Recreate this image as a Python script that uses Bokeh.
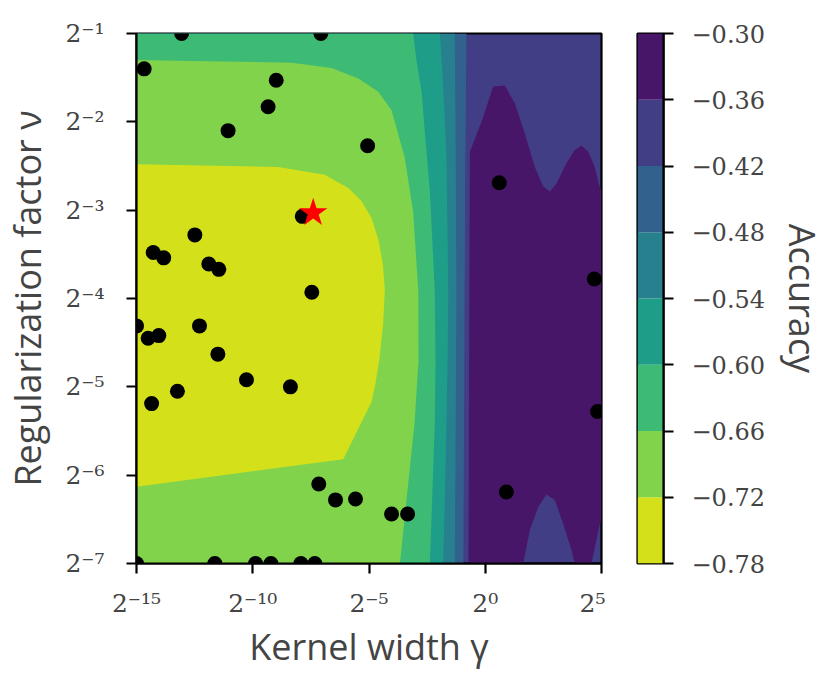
import numpy as np
from bokeh.plotting import figure
from bokeh.layouts import row
from bokeh.models import Range1d, FixedTicker, CustomJSTickFormatter
from bokeh.palettes import Viridis256
from bokeh.embed import file_html
from bokeh.resources import INLINE

# ---------------- data (log2 exponents) ----------------
x_exp_range = [-15, 5]          # log2 gamma
y_exp_range = [-7, -1]          # log2 nu
x_tick_exps = [-15, -10, -5, 0, 5]
y_tick_exps = [-7, -6, -5, -4, -3, -2, -1]

levels = [-0.78, -0.72, -0.66, -0.60, -0.54, -0.48, -0.42, -0.36, -0.30]

# evaluated hyper-parameter points
pts_log2_gamma = [-13.06, -7.07, -14.67, -8.99, -9.34, -11.06, -5.06, 0.60,
                  -7.87, -12.49, -14.28, -13.83, -11.89, -11.46, -7.46, 4.69,
                  -15.0, -14.50, -14.04, -12.29, -11.50, -10.27, -8.38, -13.24,
                  -14.35, 4.83, -7.16, -6.44, -5.58, -4.03, -3.34, 0.91,
                  -15.0, -11.63, -9.88, -9.22, -7.93, -7.33]
pts_log2_nu = [-1.0, -1.0, -1.40, -1.53, -1.83, -2.10, -2.27, -2.69,
               -3.07, -3.28, -3.48, -3.54, -3.61, -3.67, -3.93, -3.78,
               -4.31, -4.45, -4.42, -4.31, -4.63, -4.92, -5.00, -5.05,
               -5.19, -5.28, -6.10, -6.28, -6.27, -6.44, -6.44, -6.19,
               -7.0, -7.0, -7.0, -7.0, -7.0, -7.0]
best_log2_gamma = [-7.40]
best_log2_nu = [-3.03]

# contour regions (log2 gamma, log2 nu)
# region acc < -0.72 (closed polygon)
reg072_x = [-15, -8.91, -6.91, -5.89, -5.32, -4.89, -4.59, -4.40, -4.32, -4.39, -4.54, -4.72, -4.89, -6.11, -15]
reg072_y = [-2.48, -2.51, -2.60, -2.75, -2.90, -3.09, -3.34, -3.62, -3.90, -4.28, -4.66, -4.96, -5.17, -5.82, -6.13]
# region acc < -0.66 (closed polygon, bounded by left & bottom edges)
reg066_x = [-15, -12.63, -8.33, -6.61, -5.46, -4.60, -4.03, -3.46, -3.10, -2.88, -2.87, -3.04, -3.30, -3.67, -15]
reg066_y = [-1.30, -1.31, -1.33, -1.39, -1.51, -1.66, -1.87, -2.41, -3.02, -3.92, -4.70, -5.41, -6.06, -7, -7]
# iso-lines from top to bottom (regions left of them have acc < level)
iso060_x = [-3.10, -2.96, -2.74, -2.57, -2.38, -2.17, -2.14, -2.17, -2.27, -2.38]
iso060_y = [-1, -1.30, -1.66, -2.21, -2.79, -3.92, -4.70, -5.41, -6.17, -7]
iso054_x = [-1.95, -1.80, -1.67, -1.59, -1.62, -1.67, -1.73, -1.81]
iso054_y = [-1, -1.64, -2.41, -3.92, -4.70, -5.41, -6.17, -7]
iso048_x = [-1.31, -1.27, -1.24, -1.27, -1.31]
iso048_y = [-1, -2.40, -3.92, -5.40, -7]
iso042_x = [-0.81, -0.85, -0.89, -0.94]
iso042_y = [-1, -2.33, -4.03, -7]
# region acc > -0.36 (closed polygon)
reg036_x = [-0.72, -0.70, -0.68, -0.66, -0.16, 0.34, 0.84, 1.27, 1.70, 2.13, 2.49, 2.78,
            3.06, 3.49, 3.85, 4.14, 4.43, 4.71, 4.88, 5, 5, 4.93, 4.57, 3.85, 3.71,
            3.35, 2.99, 2.63, 2.28, 1.92, 1.63]
reg036_y = [-7, -5.15, -3.45, -2.34, -2.00, -1.60, -1.59, -1.79, -2.13, -2.51, -2.73, -2.79,
            -2.70, -2.47, -2.32, -2.27, -2.34, -2.51, -2.70, -2.79, -6.49, -6.55, -7, -7, -6.85,
            -6.55, -6.28, -6.22, -6.36, -6.62, -7]

# ---------------- styling ----------------
n_bands = len(levels) - 1
band_colors = [Viridis256[255 - min(int((k + 0.5) / n_bands * 256), 255)] for k in range(n_bands)]

def p2(a):
    return list(2.0 ** np.asarray(a, dtype=float))

sup_js = """
const sup = {'-':'\u207b','0':'\u2070','1':'\u00b9','2':'\u00b2','3':'\u00b3','4':'\u2074',
             '5':'\u2075','6':'\u2076','7':'\u2077','8':'\u2078','9':'\u2079'};
const e = Math.round(Math.log2(tick));
return '2' + String(e).split('').map(c => sup[c]).join('');
"""

TICK_FONT = "DejaVu Serif"
LABEL_FONT = "Open Sans"

p = figure(x_axis_type="log", y_axis_type="log",
           x_range=Range1d(2.0 ** x_exp_range[0], 2.0 ** x_exp_range[1]),
           y_range=Range1d(2.0 ** y_exp_range[0], 2.0 ** y_exp_range[1]),
           frame_width=465, frame_height=530,
           min_border_left=135, min_border_right=4, min_border_top=33, min_border_bottom=100,
           output_backend="svg", toolbar_location=None)
p.background_fill_color = band_colors[6]
p.border_fill_color = "white"
p.outline_line_color = "black"
p.outline_line_width = 2.2
p.xgrid.visible = False
p.ygrid.visible = False

# painter's order: high-level region first, then nested sublevel regions
X0, X1 = x_exp_range
Y0, Y1 = y_exp_range
p.patch(p2(reg036_x), p2(reg036_y), fill_color=band_colors[7], line_color=None)
for ix, iy, col in [(iso042_x, iso042_y, band_colors[5]),
                    (iso048_x, iso048_y, band_colors[4]),
                    (iso054_x, iso054_y, band_colors[3]),
                    (iso060_x, iso060_y, band_colors[2])]:
    px = [X0] + ix + [X0]
    py = [Y1] + iy + [Y0]
    p.patch(p2(px), p2(py), fill_color=col, line_color=None)
p.patch(p2(reg066_x), p2(reg066_y), fill_color=band_colors[1], line_color=None)
p.patch(p2(reg072_x), p2(reg072_y), fill_color=band_colors[0], line_color=None)

p.scatter(p2(pts_log2_gamma), p2(pts_log2_nu), size=15, fill_color="black", line_color=None)
p.scatter(p2(best_log2_gamma), p2(best_log2_nu), marker="star", size=30,
          fill_color="red", line_color=None)

for ax, ticks, lab, tick_standoff, lab_standoff in [
        (p.xaxis[0], x_tick_exps, "Kernel width γ", 15, 1),
        (p.yaxis[0], y_tick_exps, "Regularization factor ν", 22, 10)]:
    ax.ticker = FixedTicker(ticks=[2.0 ** e for e in ticks], minor_ticks=[])
    ax.formatter = CustomJSTickFormatter(code=sup_js)
    ax.major_label_text_font = TICK_FONT
    ax.major_label_text_font_size = "25px"
    ax.major_tick_out = 10
    ax.major_tick_in = 0
    ax.major_tick_line_width = 2.2
    ax.minor_tick_line_color = None
    ax.axis_line_width = 2.2
    ax.major_label_standoff = tick_standoff
    ax.axis_label = lab
    ax.axis_label_text_font = LABEL_FONT
    ax.axis_label_text_font_size = "36px"
    ax.axis_label_text_font_style = "normal"
    ax.axis_label_standoff = lab_standoff

# ---------------- colour bar ----------------
cb = figure(x_range=Range1d(0, 1), y_range=Range1d(levels[0], levels[-1]),
            frame_width=26, frame_height=530,
            min_border_left=32, min_border_right=158, min_border_top=33, min_border_bottom=100,
            x_axis_location=None, y_axis_location="right",
            output_backend="svg", toolbar_location=None)
cb.quad(left=0, right=1, bottom=levels[:-1], top=levels[1:], fill_color=band_colors, line_color=None)
cb.outline_line_color = "black"
cb.outline_line_width = 2.2
cb.xgrid.visible = False
cb.ygrid.visible = False
cax = cb.yaxis[0]
cax.ticker = FixedTicker(ticks=levels, minor_ticks=[])
cax.formatter = CustomJSTickFormatter(code="return (tick < 0 ? '\u2212' : '') + Math.abs(tick).toFixed(2);")
cax.major_label_text_font = TICK_FONT
cax.major_label_text_font_size = "24px"
cax.major_tick_out = 10
cax.major_tick_in = 0
cax.major_tick_line_width = 2.2
cax.minor_tick_line_color = None
cax.axis_line_width = 2.2
cax.major_label_standoff = 18
cax.axis_label = "Accuracy"
cax.axis_label_text_font = LABEL_FONT
cax.axis_label_text_font_size = "36px"
cax.axis_label_text_font_style = "normal"
cax.axis_label_standoff = 10

layout = row(p, cb)
open("out.html", "w").write(file_html(layout, INLINE))
